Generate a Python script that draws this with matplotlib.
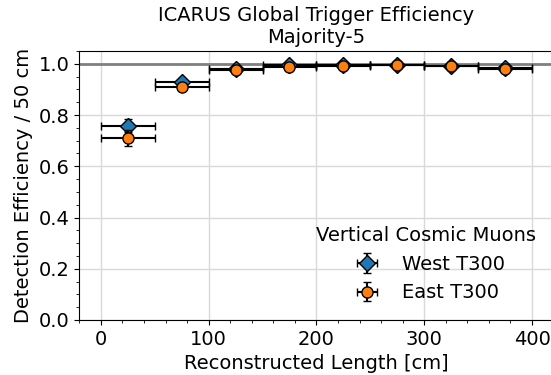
import matplotlib
matplotlib.use("Agg")
import matplotlib.pyplot as plt
from matplotlib.ticker import MultipleLocator

bin_centers = [25, 75, 125, 175, 225, 275, 325, 375]
bin_halfwidth = [25, 25, 25, 25, 25, 25, 25, 25]
west_eff = [0.758, 0.928, 0.979, 0.996, 0.995, 0.997, 0.991, 0.985]
west_err = [0.026, 0.012, 0.008, 0.005, 0.005, 0.004, 0.005, 0.006]
east_eff = [0.710, 0.911, 0.977, 0.987, 0.990, 0.995, 0.990, 0.979]
east_err = [0.032, 0.014, 0.009, 0.006, 0.006, 0.005, 0.006, 0.007]

plt.rcParams['font.size'] = 14
fig = plt.figure(figsize=(5.51, 3.75), dpi=100)
ax = fig.add_axes([0.1439, 0.1467, 0.8608, 0.7173])

ax.axhline(1.0, color='grey', lw=2, zorder=1)
ax.errorbar(bin_centers, west_eff, xerr=bin_halfwidth, yerr=west_err, fmt='D',
            color='tab:blue', mec='black', ecolor='black', ms=8, capsize=3,
            elinewidth=1.5, label='West T300', zorder=3)
ax.errorbar(bin_centers, east_eff, xerr=bin_halfwidth, yerr=east_err, fmt='o',
            color='tab:orange', mec='black', ecolor='black', ms=8, capsize=3,
            elinewidth=1.5, label='East T300', zorder=4)

ax.set_xlim(-20, 420)
ax.set_ylim(0, 1.05)
ax.xaxis.set_major_locator(MultipleLocator(100))
ax.xaxis.set_minor_locator(MultipleLocator(20))
ax.yaxis.set_major_locator(MultipleLocator(0.2))
ax.yaxis.set_minor_locator(MultipleLocator(0.05))
ax.grid(True, which='major', color='#d9d9d9', lw=1)
ax.set_axisbelow(True)
ax.set_xlabel('Reconstructed Length [cm]')
ax.set_ylabel('Detection Efficiency / 50 cm')
ax.set_title('ICARUS Global Trigger Efficiency\nMajority-5', fontsize=14)
ax.legend(title='Vertical Cosmic Muons', loc='lower right', frameon=False,
          fontsize=14, title_fontsize=14)

fig.savefig('out.png', dpi=100)
